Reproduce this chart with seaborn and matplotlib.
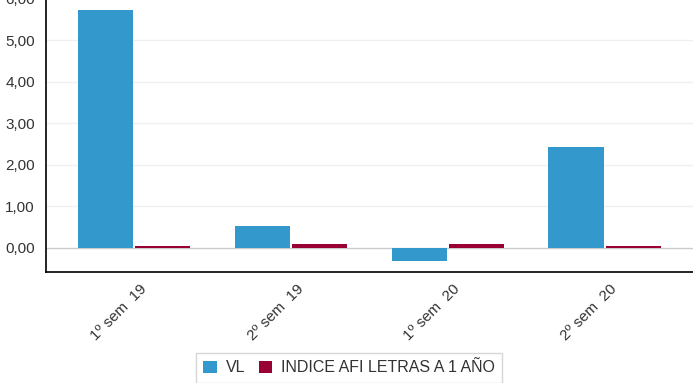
import matplotlib
matplotlib.use("Agg")
import matplotlib.pyplot as plt
import matplotlib.transforms as mtransforms
from matplotlib.patches import Patch
import seaborn as sns
import pandas as pd

# Semester returns (%) for the fund and its benchmark
periods = ["1º sem  19", "2º sem  19", "1º sem  20", "2º sem  20"]
series_names = ["VL", "INDICE AFI LETRAS A 1 AÑO"]
vl_values = [5.73, 0.53, -0.31, 2.43]
index_values = [0.04, 0.09, 0.10, 0.05]
colors = ["#3399CC", "#990033"]
y_ticks = [0, 1, 2, 3, 4, 5, 6]

df = pd.DataFrame({
    "periodo": periods * 2,
    "serie": [series_names[0]] * len(periods) + [series_names[1]] * len(periods),
    "valor": vl_values + index_values,
})

sns.set_theme(style="white")
plt.rcParams["font.family"] = ["Liberation Sans", "DejaVu Sans"]

fig = plt.figure(figsize=(6.93, 3.83), dpi=100)
ax = fig.add_axes([46 / 693, 1 - 272 / 383, 1 - 46 / 693, 273 / 383])

sns.barplot(data=df, x="periodo", y="valor", hue="serie", order=periods,
            hue_order=series_names, palette=colors, width=0.73, gap=0.035,
            linewidth=0, saturation=1, ax=ax, legend=False, zorder=3)

ax.set_ylim(-0.58, 6.0)
ax.set_xlim(-0.563, 3.564)
ax.set_yticks(y_ticks)
ax.set_yticklabels([f"{v:.2f}".replace(".", ",") for v in y_ticks])
ax.set_xlabel("")
ax.set_ylabel("")

# light horizontal grid, slightly darker baseline
for v in y_ticks:
    ax.axhline(v, color="#f0f0f0" if v != 0 else "#cccccc", lw=1, zorder=1)

for side in ["top", "right"]:
    ax.spines[side].set_visible(False)
for side in ["left", "bottom"]:
    ax.spines[side].set_color("#000000")
    ax.spines[side].set_linewidth(1.2)

ax.tick_params(axis="y", length=0, pad=8, labelsize=11, labelcolor="#333333")
ax.tick_params(axis="x", length=0, pad=7, labelsize=11, labelcolor="#333333")
plt.setp(ax.get_xticklabels(), rotation=45, ha="right")
offset = mtransforms.ScaledTranslation(15 / 100, 0, fig.dpi_scale_trans)
for lbl in ax.get_xticklabels():
    lbl.set_transform(lbl.get_transform() + offset)

handles = [Patch(facecolor=c, edgecolor="none") for c in colors]
leg = fig.legend(handles, series_names, loc="center", bbox_to_anchor=(349 / 693, 1 - 368 / 383),
                 ncol=2, frameon=True, fancybox=False, fontsize=11.5,
                 handlelength=0.85, handleheight=0.85, handletextpad=0.55,
                 columnspacing=0.85, borderpad=0.45, labelcolor="#333333")
leg.get_frame().set_edgecolor("#cccccc")
leg.get_frame().set_linewidth(1.0)

fig.savefig("out.png", dpi=100)
